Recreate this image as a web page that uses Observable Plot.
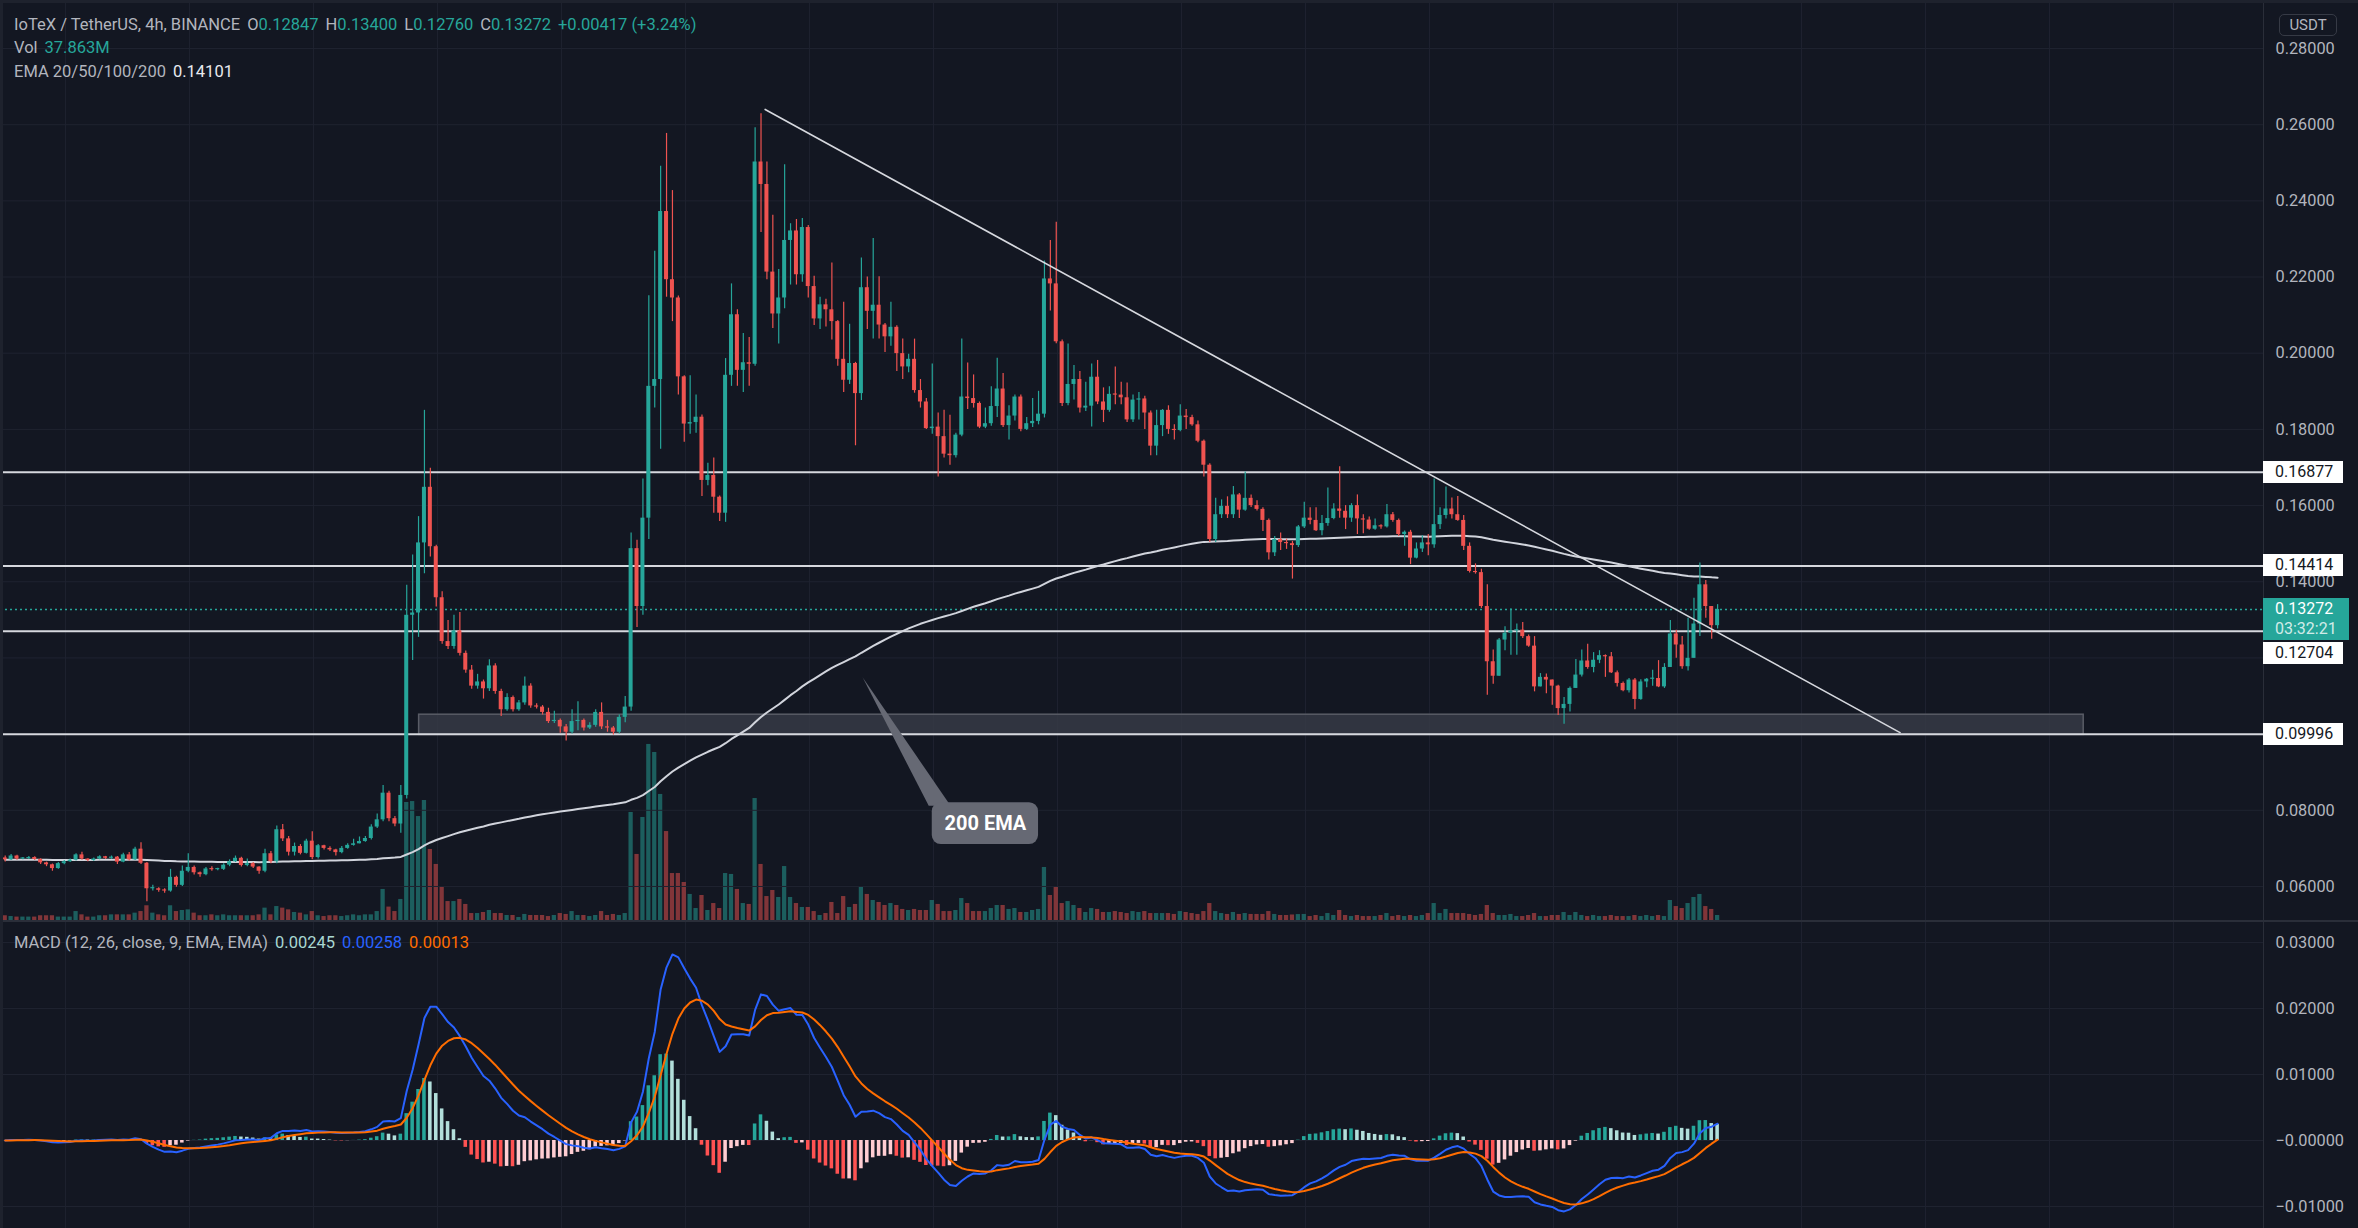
<!DOCTYPE html>
<html><head><meta charset="utf-8">
<script src="https://cdn.jsdelivr.net/npm/d3@7"></script>
<script src="https://cdn.jsdelivr.net/npm/@observablehq/plot@0.6"></script>
<style>
html,body{margin:0;padding:0;background:#131722;}
#chart{position:relative;width:2358px;height:1228px;background:#131722;overflow:hidden;font-family:Roboto,"Noto Sans",sans-serif;}
.layer{position:absolute;left:0;}
.txt{position:absolute;white-space:pre;font-size:16.5px;line-height:19px;color:#b2b5be;}
.box{position:absolute;box-sizing:border-box;font-size:16px;line-height:22px;padding-left:12px;white-space:pre;}
</style></head><body><div id="chart"></div>
<script>
// ---------- DATA (4h candles, IoTeX / TetherUS) ----------
const firstOpen = 0.0675;
const closes = [
0.0670,0.0680,0.0672,0.0673,0.0676,0.0671,0.0662,0.0657,0.0647,0.0660,
0.0665,0.0669,0.0683,0.0672,0.0668,0.0672,0.0678,0.0674,0.0677,0.0664,
0.0683,0.0670,0.0698,0.0661,0.0594,0.0594,0.0590,0.0588,0.0624,0.0603,
0.0640,0.0650,0.0636,0.0631,0.0646,0.0644,0.0645,0.0656,0.0665,0.0674,
0.0655,0.0660,0.0651,0.0640,0.0686,0.0665,0.0749,0.0725,0.0690,0.0705,
0.0687,0.0719,0.0676,0.0707,0.0700,0.0696,0.0689,0.0700,0.0708,0.0712,
0.0718,0.0726,0.0756,0.0775,0.0845,0.0778,0.0764,0.0839,0.1312,0.1318,
0.1502,0.1648,0.1492,0.1358,0.1243,0.1230,0.1271,0.1212,0.1168,0.1126,
0.1137,0.1119,0.1179,0.1112,0.1064,0.1096,0.1064,0.1082,0.1126,0.1074,
0.1071,0.1057,0.1033,0.1036,0.1019,0.1005,0.1033,0.1036,0.1016,0.1023,
0.1057,0.1019,0.1016,0.1005,0.1044,0.1071,0.1487,0.1335,0.1567,0.1913,
0.1931,0.2372,0.2193,0.2145,0.1938,0.1814,0.1818,0.1832,0.1666,0.1679,
0.1622,0.1580,0.1942,0.2101,0.1955,0.1975,0.1971,0.2502,0.2443,0.2213,
0.2103,0.2145,0.2296,0.2321,0.2206,0.2330,0.2175,0.2090,0.2127,0.2114,
0.2083,0.1984,0.1929,0.1973,0.1894,0.2172,0.2110,0.2126,0.2074,0.2043,
0.2068,0.1999,0.1964,0.1984,0.1902,0.1872,0.1802,0.1806,0.1781,0.1735,
0.1731,0.1785,0.1885,0.1881,0.1868,0.1806,0.1815,0.1860,0.1906,0.1810,
0.1835,0.1885,0.1800,0.1815,0.1821,0.1840,0.2195,0.2182,0.2030,0.1868,
0.1918,0.1931,0.1856,0.1861,0.1937,0.1872,0.1850,0.1892,0.1890,0.1883,
0.1825,0.1877,0.1880,0.1843,0.1756,0.1810,0.1850,0.1800,0.1797,0.1835,
0.1831,0.1812,0.1769,0.1706,0.1511,0.1576,0.1598,0.1576,0.1628,0.1588,
0.1619,0.1600,0.1590,0.1561,0.1476,0.1511,0.1503,0.1500,0.1495,0.1544,
0.1567,0.1561,0.1534,0.1553,0.1566,0.1591,0.1585,0.1567,0.1600,0.1565,
0.1562,0.1538,0.1547,0.1544,0.1576,0.1561,0.1524,0.1530,0.1462,0.1486,
0.1502,0.1497,0.1550,0.1574,0.1591,0.1576,0.1561,0.1493,0.1427,0.1424,
0.1335,0.1190,0.1152,0.1247,0.1265,0.1271,0.1273,0.1256,0.1231,0.1124,
0.1149,0.1142,0.1126,0.1067,0.1078,0.1120,0.1155,0.1192,0.1175,0.1194,
0.1206,0.1203,0.1161,0.1133,0.1114,0.1142,0.1091,0.1137,0.1144,0.1146,
0.1124,0.1175,0.1263,0.1234,0.1177,0.1199,0.1289,0.1392,0.1335,0.12847,0.13272];
const highs = [
0.0680,0.0684,0.0682,0.0676,0.0679,0.0678,0.0673,0.0664,0.0659,0.0663,
0.0668,0.0672,0.0686,0.0690,0.0673,0.0675,0.0681,0.0679,0.0680,0.0679,
0.0687,0.0689,0.0703,0.0715,0.0663,0.0603,0.0597,0.0594,0.0645,0.0627,
0.0654,0.0686,0.0654,0.0638,0.0650,0.0652,0.0648,0.0660,0.0670,0.0680,
0.0677,0.0672,0.0663,0.0652,0.0698,0.0692,0.0759,0.0763,0.0731,0.0714,
0.0710,0.0724,0.0744,0.0710,0.0708,0.0704,0.0698,0.0705,0.0712,0.0724,
0.0730,0.0731,0.0762,0.0790,0.0865,0.0850,0.0784,0.0865,0.1391,0.1470,
0.1571,0.1850,0.1698,0.1496,0.1374,0.1298,0.1312,0.1319,0.1218,0.1180,
0.1157,0.1142,0.1195,0.1185,0.1118,0.1106,0.1100,0.1088,0.1150,0.1132,
0.1080,0.1075,0.1068,0.1060,0.1040,0.1025,0.1064,0.1085,0.1040,0.1030,
0.1064,0.1082,0.1036,0.1020,0.1050,0.1099,0.1528,0.1509,0.1670,0.2151,
0.2268,0.2491,0.2577,0.2427,0.2150,0.1941,0.1941,0.1890,0.1838,0.1711,
0.1725,0.1625,0.1986,0.2182,0.2114,0.2052,0.2041,0.2592,0.2629,0.2502,
0.2362,0.2220,0.2495,0.2340,0.2351,0.2354,0.2335,0.2202,0.2147,0.2142,
0.2237,0.2086,0.2134,0.2076,0.1976,0.2250,0.2200,0.2301,0.2201,0.2078,
0.2134,0.2072,0.2037,0.1997,0.2037,0.1931,0.1881,0.1972,0.1843,0.1850,
0.1837,0.1790,0.2037,0.1974,0.1943,0.1872,0.1856,0.1912,0.1987,0.1947,
0.1862,0.1890,0.1890,0.1831,0.1881,0.1900,0.2242,0.2296,0.2344,0.2035,
0.2024,0.1968,0.1952,0.1924,0.1972,0.1981,0.1909,0.1912,0.1964,0.1924,
0.1922,0.1890,0.1897,0.1887,0.1848,0.1850,0.1852,0.1862,0.1812,0.1865,
0.1852,0.1837,0.1822,0.1772,0.1710,0.1619,0.1615,0.1623,0.1650,0.1632,
0.1688,0.1628,0.1613,0.1594,0.1565,0.1519,0.1528,0.1512,0.1506,0.1548,
0.1609,0.1594,0.1594,0.1574,0.1646,0.1605,0.1702,0.1600,0.1605,0.1628,
0.1576,0.1570,0.1565,0.1550,0.1603,0.1582,0.1565,0.1533,0.1535,0.1502,
0.1521,0.1524,0.1670,0.1594,0.1649,0.1620,0.1624,0.1574,0.1502,0.1447,
0.1433,0.1392,0.1221,0.1251,0.1282,0.1329,0.1289,0.1293,0.1260,0.1256,
0.1159,0.1158,0.1142,0.1128,0.1096,0.1124,0.1196,0.1221,0.1236,0.1214,
0.1219,0.1208,0.1214,0.1166,0.1137,0.1146,0.1146,0.1143,0.1146,0.1168,
0.1193,0.1185,0.1298,0.1273,0.1256,0.1304,0.1357,0.1449,0.1403,0.1335,0.1340];
const lows = [
0.0664,0.0668,0.0669,0.0670,0.0671,0.0668,0.0658,0.0652,0.0640,0.0645,
0.0657,0.0663,0.0667,0.0669,0.0665,0.0666,0.0670,0.0671,0.0671,0.0658,
0.0662,0.0667,0.0668,0.0658,0.0560,0.0588,0.0585,0.0582,0.0585,0.0598,
0.0600,0.0636,0.0630,0.0624,0.0628,0.0640,0.0641,0.0642,0.0652,0.0663,
0.0651,0.0652,0.0647,0.0632,0.0636,0.0660,0.0660,0.0718,0.0680,0.0680,
0.0683,0.0685,0.0670,0.0672,0.0696,0.0692,0.0680,0.0686,0.0698,0.0706,
0.0712,0.0716,0.0722,0.0752,0.0770,0.0770,0.0757,0.0740,0.0830,0.1193,
0.1254,0.1421,0.1465,0.1334,0.1236,0.1222,0.1223,0.1205,0.1160,0.1118,
0.1118,0.1092,0.1112,0.1105,0.1046,0.1060,0.1058,0.1060,0.1076,0.1068,
0.1066,0.1050,0.1028,0.1028,0.1002,0.0982,0.1000,0.1009,0.1008,0.1012,
0.1018,0.1012,0.1005,0.0998,0.1000,0.1030,0.1060,0.1280,0.1312,0.1511,
0.1856,0.1748,0.2147,0.2083,0.1890,0.1766,0.1787,0.1790,0.1624,0.1652,
0.1580,0.1558,0.1556,0.1913,0.1913,0.1897,0.1913,0.1966,0.2317,0.2193,
0.2065,0.2024,0.2117,0.2179,0.2179,0.2186,0.2145,0.2073,0.2062,0.2069,
0.2035,0.1966,0.1897,0.1918,0.1757,0.1876,0.2062,0.2037,0.2037,0.2002,
0.2018,0.1952,0.1931,0.1949,0.1895,0.1856,0.1800,0.1787,0.1675,0.1725,
0.1706,0.1725,0.1781,0.1852,0.1856,0.1802,0.1802,0.1808,0.1831,0.1805,
0.1772,0.1822,0.1794,0.1797,0.1805,0.1812,0.1830,0.2111,0.2025,0.1860,
0.1862,0.1877,0.1843,0.1847,0.1806,0.1865,0.1818,0.1845,0.1865,0.1865,
0.1818,0.1818,0.1825,0.1800,0.1731,0.1731,0.1781,0.1787,0.1772,0.1794,
0.1800,0.1808,0.1765,0.1675,0.1503,0.1503,0.1566,0.1566,0.1566,0.1566,
0.1585,0.1595,0.1586,0.1532,0.1457,0.1466,0.1482,0.1485,0.1407,0.1490,
0.1540,0.1550,0.1532,0.1521,0.1546,0.1563,0.1567,0.1537,0.1556,0.1524,
0.1526,0.1535,0.1535,0.1538,0.1541,0.1556,0.1519,0.1493,0.1445,0.1460,
0.1477,0.1468,0.1488,0.1537,0.1565,0.1565,0.1559,0.1482,0.1423,0.1420,
0.1330,0.1102,0.1131,0.1152,0.1219,0.1207,0.1207,0.1251,0.1228,0.1111,
0.1124,0.1106,0.1076,0.1049,0.1026,0.1058,0.1120,0.1150,0.1170,0.1161,
0.1185,0.1149,0.1159,0.1124,0.1111,0.1108,0.1064,0.1089,0.1122,0.1126,
0.1122,0.1120,0.1175,0.1199,0.1170,0.1166,0.1199,0.1256,0.1304,0.1249,0.1276];
// volume in millions
const volumes = [
36,30,26,26,26,26,36,36,36,26,
26,26,68,43,26,26,36,36,43,43,
43,43,56,68,112,56,43,36,112,68,
76,81,56,36,36,43,36,43,36,36,
36,36,36,43,94,43,106,94,81,61,
56,43,68,36,30,36,36,30,36,43,
36,43,43,68,236,102,68,160,897,904,
790,912,540,426,258,144,144,160,122,53,
53,61,76,53,53,38,38,23,46,38,
38,38,30,38,53,46,68,38,38,30,
38,68,38,46,38,53,821,502,783,1338,
1277,958,676,357,357,289,198,91,190,76,
129,91,357,350,236,129,122,927,426,182,
228,175,410,175,129,99,99,68,38,53,
137,53,182,99,122,251,198,152,137,114,
129,114,84,76,84,76,76,152,122,68,
68,76,167,129,68,68,68,91,114,114,
84,91,61,61,76,84,403,190,251,129,
144,114,91,61,91,84,61,61,68,61,
53,68,61,68,53,53,53,53,46,68,
61,53,46,68,129,68,53,46,61,46,
53,46,46,46,68,46,38,38,42,45,
46,30,38,30,53,38,76,38,30,38,
30,30,30,38,53,30,38,30,38,30,
38,53,129,53,84,53,53,53,46,38,
46,114,53,38,38,46,30,30,38,53,
30,30,38,38,61,38,61,38,30,38,
30,30,38,30,30,30,38,30,38,30,
38,30,152,106,91,129,175,198,106,84,38];

// axes / ticks
const priceTicks = [0.06,0.08,0.10,0.12,0.14,0.16,0.18,0.20,0.22,0.24,0.26,0.28];
const priceTickLabels = [0.06,0.08,0.14,0.16,0.18,0.20,0.22,0.24,0.26,0.28]; // 0.10 / 0.12 hidden behind level labels
const macdTicks = [0.03,0.02,0.01,0,-0.01];
const macdTickLabels = ["0.03000","0.02000","0.01000","\u22120.00000","\u22120.01000"];
const timeGridIdx = [10.2,31.2,52.2,73.2,94.2,115.2,136.2,157.2,178.2,199.2,220.2,241.2,262.2,283.2,304.2,325.2,346.2,367.2];

// drawings
const levels = [0.16877,0.14414,0.12704,0.09996];
const lastPrice = 0.13272;
const countdown = "03:32:21";
const trendline = [{i:128.7,p:0.2640},{i:320.9,p:0.1004}];
const zone = [{i1:70.1,i2:352,p1:0.0998,p2:0.1051}];
const calloutPointer = [{i:145.2,p:0.1149},{i:156.4,p:0.0812},{i:160.1,p:0.0812}];
const calloutBox = [{i1:157,i2:175,p1:0.0710,p2:0.0820}];
const calloutLabel = [{i:166,p:0.0765,text:"200 EMA"}];

// legends
const symbolTitle = "IoTeX / TetherUS, 4h, BINANCE";
const ohlcLegend = [["O","0.12847"],["H","0.13400"],["L","0.12760"],["C","0.13272"]];
const changeLegend = "+0.00417 (+3.24%)";
const volLegend = "37.863M";
const emaLegend = ["EMA 20/50/100/200","0.14101"];
const macdLegend = ["MACD (12, 26, close, 9, EMA, EMA)","0.00245","0.00258","0.00013"];

// ---------- STYLE ----------
const UP="#26a69a", DN="#ef5350", VUP="rgba(38,166,154,0.5)", VDN="rgba(239,83,80,0.5)";
const GRID="#1f2330", BORDER="#2a2e39", AX="#b2b5be";
const W=2358, PH=920, MH=308, AXW=95;
const xDomain=[-0.796,382.45];
const priceDomain=[0.05107,0.29260];
const macdDomain=[-0.013333,0.033333];
const FONT='Roboto,"Noto Sans",sans-serif';

// ---------- DERIVED ----------
function ema(vals,n){const a=2/(n+1);let e=vals[0];return vals.map((v,k)=>k===0?e:(e=a*v+(1-a)*e));}
const ema200 = ema(closes,200);
const fast = ema(closes,12), slow = ema(closes,26);
const macd = fast.map((f,k)=>f-slow[k]);
const signal = ema(macd,9);
const hist = macd.map((m,k)=>m-signal[k]);
const candles = closes.map((c,i)=>{
  const o = i===0?firstOpen:closes[i-1];
  let b1=Math.min(o,c), b2=Math.max(o,c);
  if(b2-b1<0.0003) b2=b1+0.0003;
  return {i,o,c,h:highs[i],l:lows[i],v:volumes[i],up:c>=o,b1,b2,ema:ema200[i]};
});
const macdRows = hist.map((h,i)=>{
  const prev = i===0?0:hist[i-1];
  const col = h>=0 ? (prev<h?"#26a69a":"#b2dfdb") : (prev<h?"#ffcdd2":"#ff5252");
  return {i,hist:h,macd:macd[i],signal:signal[i],col};
});

const chart=document.getElementById("chart");
const base = {width:W, marginLeft:0, marginRight:AXW, marginTop:0, marginBottom:0,
  style:{background:"transparent",color:AX,fontFamily:FONT,fontSize:"16px",overflow:"visible"}};

// volume layer
const volPlot = Plot.plot({...base, height:PH,
  x:{domain:xDomain,axis:null}, y:{domain:[0,6992],axis:null},
  marks:[
    Plot.ruleX(timeGridIdx,{stroke:GRID}),
    Plot.rect(candles,{x1:d=>d.i-0.36,x2:d=>d.i+0.36,y1:0,y2:"v",fill:d=>d.up?VUP:VDN})
  ]});
volPlot.classList.add("layer"); volPlot.style.top="0px";
chart.appendChild(volPlot);

// price layer
const pricePlot = Plot.plot({...base, height:PH,
  x:{domain:xDomain,axis:null}, y:{domain:priceDomain,axis:null,label:null},
  marks:[
    Plot.ruleY(priceTicks,{stroke:GRID}),
    Plot.rect(zone,{x1:"i1",x2:"i2",y1:"p1",y2:"p2",fill:"#363a45",fillOpacity:0.85,stroke:"#595c66",strokeWidth:1.5}),
    Plot.ruleY(levels,{stroke:"#d6d8de",strokeWidth:2}),
    Plot.ruleY([lastPrice],{stroke:UP,strokeDasharray:"2,3",strokeWidth:1.3}),
    Plot.line(candles,{x:"i",y:"ema",stroke:"#d1d4dc",strokeWidth:2}),
    Plot.ruleX(candles,{x:"i",y1:"l",y2:"h",stroke:d=>d.up?UP:DN,strokeWidth:1.2}),
    Plot.rect(candles,{x1:d=>d.i-0.34,x2:d=>d.i+0.34,y1:"b1",y2:"b2",fill:d=>d.up?UP:DN}),
    Plot.line(trendline,{x:"i",y:"p",stroke:"#d6d8de",strokeWidth:1.6}),
    Plot.line(calloutPointer,{x:"i",y:"p",curve:"linear-closed",fill:"#666974",stroke:"none"}),
    Plot.rect(calloutBox,{x1:"i1",x2:"i2",y1:"p1",y2:"p2",fill:"#666974",rx:9}),
    Plot.text(calloutLabel,{x:"i",y:"p",text:"text",fill:"#ffffff",fontWeight:"bold",fontSize:20}),
    Plot.axisY(priceTickLabels,{anchor:"right",tickSize:0,tickPadding:12,label:null,textAnchor:"start",
      tickFormat:d=>d.toFixed(5),fill:AX,fontSize:16.3})
  ]});
pricePlot.classList.add("layer"); pricePlot.style.top="0px";
chart.appendChild(pricePlot);

// macd layer
const macdLabelMap = new Map(macdTicks.map((t,k)=>[t,macdTickLabels[k]]));
const macdPlot = Plot.plot({...base, height:MH,
  x:{domain:xDomain,axis:null}, y:{domain:macdDomain,axis:null,label:null},
  marks:[
    Plot.ruleY(macdTicks,{stroke:GRID}),
    Plot.ruleX(timeGridIdx,{stroke:GRID}),
    Plot.rect(macdRows,{x1:d=>d.i-0.3,x2:d=>d.i+0.3,y1:0,y2:"hist",fill:"col"}),
    Plot.line(macdRows,{x:"i",y:"macd",stroke:"#2962ff",strokeWidth:2}),
    Plot.line(macdRows,{x:"i",y:"signal",stroke:"#ff6d00",strokeWidth:2}),
    Plot.axisY(macdTicks,{anchor:"right",tickSize:0,tickPadding:12,label:null,textAnchor:"start",
      tickFormat:d=>macdLabelMap.get(d),fill:AX,fontSize:16.3})
  ]});
macdPlot.classList.add("layer"); macdPlot.style.top=PH+"px";
chart.appendChild(macdPlot);

// ---------- frame lines ----------
function div(css,html){const d=document.createElement("div");d.style.cssText="position:absolute;"+css;if(html!=null)d.innerHTML=html;chart.appendChild(d);return d;}
const xs = pricePlot.scale("x"), ys = pricePlot.scale("y");
const axisX = Math.round(xs.apply(xDomain[1]));
div(`left:0;top:${PH}px;width:${W}px;height:2px;background:${BORDER};`);
div(`left:${axisX}px;top:0;width:1px;height:1228px;background:${BORDER};`);
div(`left:0;top:0;width:${W}px;height:3px;background:#1e222d;`);
div(`left:0;top:0;width:3px;height:1228px;background:#1e222d;`);

// ---------- legends ----------
const span=(t,c)=>`<span style="color:${c}">${t}</span>`;
const gap = '<span style="display:inline-block;width:7px"></span>';
let l1 = span(symbolTitle,AX)+gap;
ohlcLegend.forEach(([k,v])=>{l1+=span(k,AX)+span(v,UP)+gap;});
l1 += span(changeLegend,UP);
const t1=div("left:14px;top:15px;",l1); t1.className="txt";
const t2=div("left:14px;top:38px;",span("Vol",AX)+gap+span(volLegend,UP)); t2.className="txt";
const t3=div("left:14px;top:62px;",span(emaLegend[0],AX)+gap+span(emaLegend[1],"#e8eaef")); t3.className="txt";
const t4=div(`left:14px;top:${PH+13}px;`,span(macdLegend[0],AX)+gap+span(macdLegend[1],"#a9d8d2")+gap+span(macdLegend[2],"#2962ff")+gap+span(macdLegend[3],"#ff6d00")); t4.className="txt";

// ---------- right-axis price boxes ----------
const tealTop = Math.round(ys.apply(lastPrice))-11;
const teal = div(`left:${axisX}px;top:${tealTop}px;width:86px;height:42px;background:${UP};color:#fff;`,
  `<div style="line-height:21px">${lastPrice.toFixed(5)}</div><div style="line-height:19px;color:rgba(255,255,255,0.8)">${countdown}</div>`);
teal.className="box";
levels.forEach(v=>{
  let top = Math.round(ys.apply(v))-11;
  if(top<tealTop+42 && top+22>tealTop) top = tealTop+44;
  const b=div(`left:${axisX}px;top:${top}px;width:80px;height:22px;background:#ffffff;color:#131722;`,v.toFixed(5));
  b.className="box";
});
div(`left:2279px;top:14px;width:58px;height:22px;box-sizing:border-box;border:1px solid #363a45;border-radius:5px;color:${AX};font-size:15px;line-height:20px;text-align:center;`,"USDT");
</script></body></html>
